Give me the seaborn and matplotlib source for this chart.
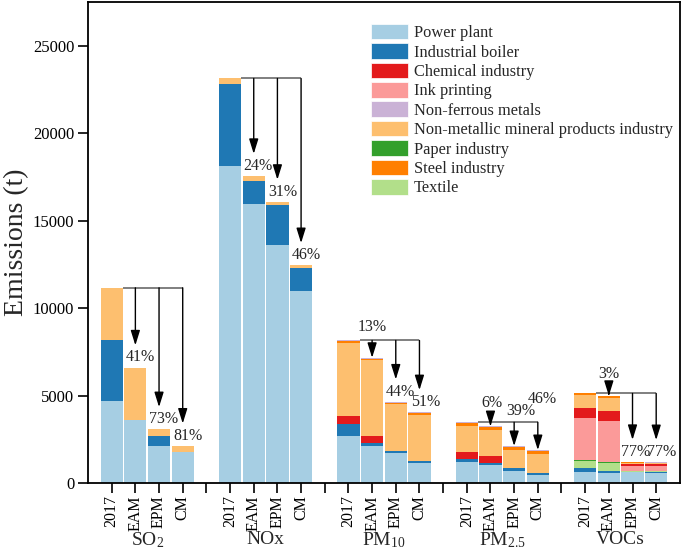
import matplotlib
matplotlib.use("Agg")
import matplotlib.pyplot as plt
from matplotlib.patches import Patch
import numpy as np
import pandas as pd
import seaborn as sns

# ---------------- data ----------------
pollutants = ["SO2", "NOx", "PM10", "PM2.5", "VOCs"]
pollutant_labels = [r"SO$_2$", "NOx", r"PM$_{10}$", r"PM$_{2.5}$", "VOCs"]
scenarios = ["2017", "EAM", "EPM", "CM"]

# values per source, ordered pollutant by pollutant, scenario by scenario (t)
power_plant       = [4700, 3600, 2100, 1780,  18100, 15950, 13600, 11000,  2700, 2130, 1700, 1130,  1220, 1010, 700, 460,  650, 570, 610, 600]
industrial_boiler = [3500, 0, 570, 0,         4700, 1300, 2320, 1300,      650, 140, 150, 130,      130, 115, 140, 95,    190, 115, 30, 30]
textile           = [0, 0, 0, 0,              0, 0, 0, 0,                  0, 0, 0, 0,              0, 0, 0, 0,           420, 450, 50, 50]
paper_industry    = [0, 0, 0, 0,              0, 0, 0, 0,                  0, 0, 0, 0,              0, 0, 0, 0,           50, 60, 20, 20]
ink_printing      = [0, 0, 0, 0,              0, 0, 0, 0,                  0, 0, 0, 0,              0, 0, 0, 0,           2420, 2360, 290, 290]
chemical_industry = [0, 0, 0, 0,              0, 0, 0, 0,                  460, 420, 0, 0,          440, 415, 0, 0,       570, 570, 75, 75]
non_metallic      = [2960, 3000, 400, 350,    330, 300, 150, 150,          4190, 4320, 2650, 2630,  1450, 1485, 1045, 1100, 720, 760, 60, 60]
steel_industry    = [0, 0, 0, 0,              0, 0, 0, 0,                  100, 100, 100, 100,      170, 170, 170, 170,   100, 100, 40, 40]
non_ferrous       = [0, 0, 0, 0,              0, 0, 0, 0,                  50, 50, 50, 50,          60, 60, 60, 60,       0, 0, 20, 20]

reduction_labels = ["41%", "73%", "81%",  "24%", "31%", "46%",  "13%", "44%", "51%",
                    "6%", "39%", "46%",  "3%", "77%", "77%"]

# stacking order, bottom to top
stack_sources = {
    "Power plant": power_plant,
    "Industrial boiler": industrial_boiler,
    "Textile": textile,
    "Paper industry": paper_industry,
    "Ink printing": ink_printing,
    "Chemical industry": chemical_industry,
    "Non-metallic mineral products industry": non_metallic,
    "Steel industry": steel_industry,
    "Non-ferrous metals": non_ferrous,
}
legend_order = ["Power plant", "Industrial boiler", "Chemical industry", "Ink printing",
                "Non-ferrous metals", "Non-metallic mineral products industry",
                "Paper industry", "Steel industry", "Textile"]

# ---------------- style ----------------
paired = sns.color_palette("Paired", 12)
palette = {
    "Power plant": paired[0],
    "Industrial boiler": paired[1],
    "Textile": paired[2],
    "Paper industry": paired[3],
    "Ink printing": paired[4],
    "Chemical industry": paired[5],
    "Non-metallic mineral products industry": paired[6],
    "Steel industry": paired[7],
    "Non-ferrous metals": paired[8],
}

sns.set_style("ticks")
SERIF = ["Liberation Serif", "DejaVu Serif"]
plt.rcParams["font.family"] = SERIF
plt.rcParams["mathtext.fontset"] = "custom"
plt.rcParams["mathtext.rm"] = "Liberation Serif"
plt.rcParams["mathtext.it"] = "Liberation Serif:italic"

# label placement per reduction label: (mode, dx pt, dy pt)
label_style = [
    ("below", 3.5, 1.5), ("below", 3.5, 1.5), ("below", 3.5, 1.5),
    ("below", 3.0, 1.5), ("below", 4.0, 1.5), ("below", 4.0, 1.5),
    ("above", 0.0, 4.0), ("below", 3.0, 1.5), ("below", 4.5, 1.5),
    ("above", 1.0, 8.0), ("above", 5.0, 2.5), ("above", 3.0, 11.0),
    ("above", 0.0, 8.0), ("below", 2.0, 1.5), ("below", 4.0, 1.5),
]

# ---------------- build long table ----------------
n_s = len(scenarios)
slot = n_s + 1
rows = []
for src, vals in stack_sources.items():
    for g, pol in enumerate(pollutants):
        for s, sc in enumerate(scenarios):
            rows.append({"pos": g * slot + s, "source": src,
                         "value": vals[g * n_s + s]})
df = pd.DataFrame(rows)
totals = df.groupby("pos")["value"].sum()

fig = plt.figure(figsize=(6.85, 5.56), dpi=100)
ax = fig.add_axes([0.1285, 0.1313, 0.864, 0.865])

sns.histplot(data=df, x="pos", weights="value", hue="source",
             hue_order=list(stack_sources.keys())[::-1], multiple="stack",
             discrete=True, shrink=0.94, palette=palette, alpha=1,
             edgecolor="none", linewidth=0, legend=False, ax=ax)

# ---------------- brackets, arrows, labels ----------------
arrow_style = "-|>,head_length=0.9,head_width=0.28"
k = 0
for g in range(len(pollutants)):
    base = g * slot
    t0 = totals[base]
    ax.plot([base + 0.47, base + n_s - 1], [t0, t0], color="#5c5c5c", lw=1.1,
            solid_capstyle="butt", zorder=3)
    for s in range(1, n_s):
        x = base + s
        ts = totals[x]
        mode, dx, dy = label_style[k]
        shrink = 16 if mode == "below" else 0
        ax.annotate("", xy=(x, ts), xytext=(x, t0),
                    arrowprops=dict(arrowstyle=arrow_style, color="black", lw=1.0,
                                    shrinkA=0, shrinkB=shrink, mutation_scale=10),
                    zorder=3)
        anchor = ts if mode == "below" else t0
        ax.annotate(reduction_labels[k], xy=(x, anchor), xytext=(dx, dy),
                    textcoords="offset points", ha="center", va="bottom",
                    fontsize=11.5, fontfamily=SERIF)
        k += 1

# ---------------- axes ----------------
ax.set_xlim(-1, len(pollutants) * slot - 1)
ax.set_ylim(0, 27500)
ticks = list(range(0, len(pollutants) * slot - 1))
tick_labels = [scenarios[t % slot] if t % slot < n_s else "" for t in ticks]
ax.set_xticks(ticks)
ax.set_xticklabels(tick_labels, rotation=90, fontsize=11.5, fontfamily=SERIF)
ax.set_yticks(np.arange(0, 25001, 5000))
ax.set_yticklabels([str(v) for v in range(0, 25001, 5000)], fontsize=12, fontfamily=SERIF)
ax.tick_params(axis="both", direction="out", length=7, width=1.2, colors="black")
ax.tick_params(axis="x", pad=2)
ax.tick_params(axis="y", pad=3)
ax.set_xlabel("")
ax.set_ylabel("Emissions (t)", fontsize=20, fontfamily=SERIF)
ax.yaxis.set_label_coords(-0.1, 0.5)
for sp in ax.spines.values():
    sp.set_visible(True)
    sp.set_linewidth(1.3)
    sp.set_color("black")

for g, lab in enumerate(pollutant_labels):
    ax.text(g * slot + (n_s - 1) / 2, -0.118, lab, transform=ax.get_xaxis_transform(),
            ha="center", va="center", fontsize=14, fontfamily=SERIF)

handles = [Patch(facecolor=palette[s], edgecolor="white", linewidth=0.5) for s in legend_order]
ax.legend(handles, legend_order, loc="upper left", bbox_to_anchor=(0.478, 0.955),
          frameon=False, prop={"family": SERIF, "size": 11.8}, handlelength=2.25,
          handleheight=1.1, labelspacing=0.12, handletextpad=0.35, borderpad=0,
          borderaxespad=0)

fig.savefig("out.png", dpi=100)
